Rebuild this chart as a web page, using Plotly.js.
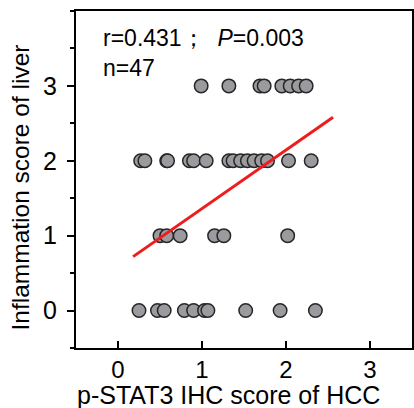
<!DOCTYPE html>
<html>
<head>
<meta charset="utf-8">
<script src="https://cdn.plot.ly/plotly-3.0.1.min.js"></script>
<style>html,body{margin:0;padding:0;background:#fff;}#chart{width:414px;height:408px;}</style>
</head>
<body>
<div id="chart"></div>
<script>
// p-STAT3 IHC score (x) per inflammation score row (y)
var xScore3 = [0.99, 1.32, 1.69, 1.74, 1.95, 2.05, 2.15, 2.24];
var xScore2 = [0.27, 0.32, 0.58, 0.59, 0.85, 0.90, 1.05, 1.32, 1.37, 1.46, 1.54, 1.62, 1.71, 1.78, 2.03, 2.30];
var xScore1 = [0.50, 0.58, 0.74, 1.15, 1.26, 2.02];
var xScore0 = [0.25, 0.47, 0.55, 0.79, 0.90, 1.03, 1.07, 1.52, 1.93, 2.35];
var rowLevels = [3, 2, 1, 0];
// regression line endpoints
var fitX = [0.18, 2.56];
var fitY = [0.72, 2.58];
var xTicks = [0, 1, 2, 3];
var yTicks = [0, 1, 2, 3];
var statText = "r=0.431；  <i>P</i>=0.003";
var nText = "n=47";
var xTitle = "p-STAT3 IHC score of HCC";
var yTitle = "Inflammation score of liver";

var rows = [xScore3, xScore2, xScore1, xScore0];
var px = [], py = [];
rows.forEach(function (r, i) {
  r.forEach(function (v) { px.push(v); py.push(rowLevels[i]); });
});

var font = "Arial, 'Liberation Sans', sans-serif";
var traces = [
  {
    x: px, y: py, type: "scatter", mode: "markers",
    marker: { size: 13.5, color: "#9b9b9f", line: { color: "#262626", width: 1.5 } },
    hoverinfo: "none"
  },
  {
    x: fitX, y: fitY, type: "scatter", mode: "lines",
    line: { color: "#ee1c1c", width: 3 },
    hoverinfo: "none"
  }
];

var layout = {
  width: 414, height: 408,
  margin: { l: 76, r: 2, t: 11, b: 60 },
  paper_bgcolor: "#fff", plot_bgcolor: "#fff",
  showlegend: false,
  font: { family: font, color: "#000", size: 24 },
  xaxis: {
    range: [-0.5, 3.5], tickvals: xTicks, ticktext: xTicks.map(String),
    ticks: "inside", ticklen: 7, tickwidth: 2, tickcolor: "#000",
    showline: true, linecolor: "#000", linewidth: 2, mirror: true,
    showgrid: false, zeroline: false,
    tickfont: { family: font, size: 24, color: "#000" },
    ticklabelstandoff: -1
  },
  yaxis: {
    range: [-0.5, 4], tickvals: yTicks, ticktext: yTicks.map(String),
    ticks: "outside", ticklen: 7, tickwidth: 2, tickcolor: "#000",
    minor: { dtick: 0.5, tick0: 0, ticks: "outside", ticklen: 4, tickwidth: 2, tickcolor: "#000" },
    showline: true, linecolor: "#000", linewidth: 2, mirror: true,
    showgrid: false, zeroline: false,
    tickfont: { family: font, size: 25, color: "#000" },
    ticklabelstandoff: 5
  },
  annotations: [
    { xref: "paper", yref: "paper", x: 0.075, y: 0.965, xanchor: "left", yanchor: "top",
      text: statText, showarrow: false, font: { family: font, size: 23, color: "#000" } },
    { xref: "paper", yref: "paper", x: 0.075, y: 0.875, xanchor: "left", yanchor: "top",
      text: nText, showarrow: false, font: { family: font, size: 23, color: "#000" } },
    { xref: "paper", yref: "paper", x: 0.5, y: 0, xanchor: "center", yanchor: "middle",
      xshift: -16, yshift: -47,
      text: xTitle, showarrow: false, font: { family: font, size: 25, color: "#000" } },
    { xref: "paper", yref: "paper", x: 0, y: 0.5, xanchor: "center", yanchor: "middle",
      xshift: -56, yshift: -8, textangle: -90,
      text: yTitle, showarrow: false, font: { family: font, size: 24.5, color: "#000" } }
  ]
};

Plotly.newPlot("chart", traces, layout, { staticPlot: true, displayModeBar: false });
</script>
</body>
</html>
